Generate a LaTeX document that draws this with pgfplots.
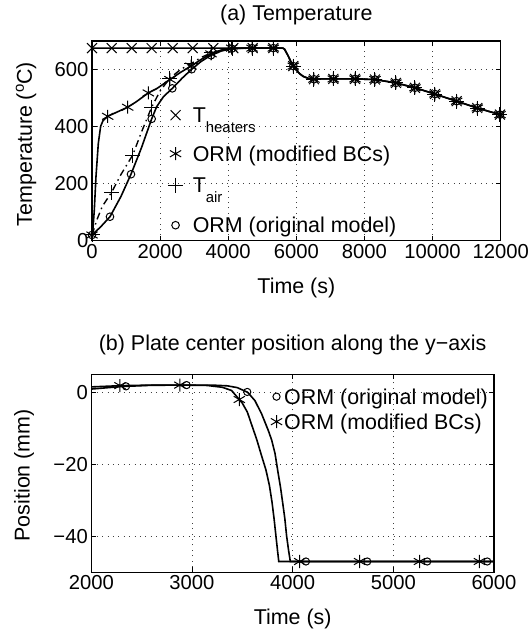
\documentclass[border=0pt]{standalone}
\usepackage{fontspec}
\setmainfont{Liberation Sans}
\usepackage{pgfplots}
\pgfplotsset{compat=1.18}
\newcommand{\sub}[1]{\raisebox{-10bp}{\fontsize{15}{16}\selectfont #1}}
\newcommand{\supo}{\raisebox{8bp}{\fontsize{15}{16}\selectfont o}}
\newcommand{\ff}{\fontsize{21.5}{25}\selectfont}
\newcommand{\ft}{\fontsize{20.3}{24}\selectfont}
\newcommand{\st}[1]{\rule[-#1bp]{0pt}{#1bp}\rule{0pt}{16bp}}
\pgfplotsset{
  mystyle/.style={
    scale only axis,
    anchor=south west,
    axis line style={line width=1.3bp},
    tick align=inside,
    major tick length=5bp,
    tick style={line width=0.8bp, black},
    grid=major,
    major grid style={black!75, line width=0.9bp, dash pattern=on 0.9bp off 4.5bp},
    scaled ticks=false,
    tick label style={font=\ft},
    xticklabel style={inner sep=3bp},
    label style={font=\ff},
    title style={font=\ff, anchor=center},
    legend style={font=\ff, draw=none, fill=none, inner sep=0pt, column sep=0pt, row sep=0pt,
                  nodes={inner sep=0pt, text depth=, text height=}, cells={anchor=base west}},
    clip=true,
  },
  curve/.style={black, line width=1.6bp, mark=none},
  mk/.style={only marks, black, mark options={line width=1bp, solid}},
}
\begin{document}
\begin{tikzpicture}
\path[use as bounding box] (0bp,0bp) rectangle (529bp,635bp);
% ---------------- (a) Temperature ----------------
\begin{axis}[mystyle,
  at={(92bp,394.3bp)}, width=408.7bp, height=199.7bp,
  xmin=0, xmax=12000, ymin=0, ymax=700,
  xtick={0,2000,4000,6000,8000,10000,12000},
  xticklabels={0,2000,4000,6000,8000,10000,12000},
  ytick={0,200,400,600}, yticklabels={0,200,400,600},
  title={(a) Temperature},
  title style={at={(axis description cs:0.5,1.10)}},
  xlabel={Time (s)},
  xlabel style={at={(axis description cs:0.5,-0.237)}, anchor=center},
  ylabel={Temperature (\supo C)},
  ylabel style={at={(axis description cs:-0.1615,0.484)}, anchor=center},
  legend style={at={(axis description cs:0.179,0.672)}, anchor=north west},
  legend image code/.code={\path (0bp,7.5bp) (27bp,7.5bp); \draw[mark repeat=2,mark phase=2,#1] plot coordinates {(0bp,7.5bp) (10bp,7.5bp) (27bp,7.5bp)};},
]
% heaters line
\addplot[curve, forget plot] coordinates {
(0,675) (5600,675) (5650,672) (5750,650) (5850,625) (5910,612) (6000,598) (6100,585) (6200,576) (6350,569) (6518,567) (7100,567) (7722,567) (8309,565) (8925,553) (9483,536) (10070,514) (10707,489) (11313,465) (11979,442) (12000,441)};
% modified BCs line
\addplot[curve, forget plot] coordinates {
(0,20) (30,45) (68,108) (117,225) (186,342) (254,401) (320,420) (380,427) (461,436) (700,449) (1047,468) (1300,487) (1654,518) (1900,533) (2290,565) (2600,590) (2907,612) (3200,635) (3494,655) (3800,668) (4100,675) (5600,675) (5650,672) (5750,650) (5850,625) (5910,612) (6000,598) (6100,585) (6200,576) (6350,569) (6518,567) (7100,567) (7722,567) (8309,565) (8925,553) (9483,536) (10070,514) (10707,489) (11313,465) (11979,442) (12000,441)};
% T air line (dash-dot)
\addplot[curve, line width=1.4bp, dash pattern=on 7bp off 4bp on 1.5bp off 4bp, forget plot] coordinates {
(0,20) (150,75) (300,120) (578,170) (850,232) (1195,300) (1450,380) (1752,468) (2000,525) (2290,570) (2600,600) (2927,622) (3200,642) (3494,658) (3800,668) (4130,673) (4700,675) (5600,675)};
% original model line
\addplot[curve, forget plot] coordinates {
(0,20) (250,48) (528,84) (850,155) (1145,233) (1450,325) (1752,427) (1900,470) (2100,505) (2358,534) (2650,570) (2927,601) (3200,628) (3494,650) (3800,665) (4100,673) (4500,675) (5600,675)};
% markers
\addplot[mk, mark=x, mark size=7bp] coordinates {
(0,675) (578,675) (1165,675) (1752,675) (2369,675) (2956,675) (3562,675) (4149,675) (4718,675) (5323,675) (5910,612) (6518,566) (7085,567) (7722,567) (8309,565) (8925,553) (9483,536) (10070,514) (10707,489) (11313,465) (11979,442)};
\addlegendentry{T\sub{heaters}\st{22.5}}
\addplot[mk, mark=asterisk, mark size=6.5bp] coordinates {
(0,20) (461,436) (1047,468) (1654,518) (2290,565) (2907,612) (3494,655) (4100,675) (4700,675) (5323,675) (5910,612) (6518,566) (7085,567) (7722,567) (8309,565) (8925,553) (9483,536) (10070,514) (10707,489) (11313,465) (11979,442)};
\addlegendentry{ORM (modified BCs)\st{15.5}}
\addplot[mk, mark=+, mark size=7.5bp] coordinates {
(0,20) (578,170) (1195,300) (1752,468) (2290,570) (2927,622) (3494,658) (4130,673) (4720,675) (5323,675) (5910,612) (6518,566) (7085,567) (7722,567) (8309,565) (8925,553) (9483,536) (10070,514) (10707,489) (11313,465) (11979,442)};
\addlegendentry{T\sub{air}\st{24}}
\addplot[mk, mark=o, mark size=3.8bp] coordinates {
(0,20) (528,84) (1145,233) (1752,427) (2358,534) (2927,601) (3494,650) (4100,673) (4700,675) (5323,675) (5910,612) (6518,566) (7085,567) (7722,567) (8309,565) (8925,553) (9483,536) (10070,514) (10707,489) (11313,465) (11979,442)};
\addlegendentry{ORM (original model)\st{5}}
\end{axis}
% ---------------- (b) Position ----------------
\begin{axis}[mystyle,
  at={(91.3bp,62.7bp)}, width=402.7bp, height=198bp,
  xmin=2000, xmax=6000, ymin=-50, ymax=5,
  xtick={2000,3000,4000,5000,6000},
  xticklabels={2000,3000,4000,5000,6000},
  ytick={-40,-20,0}, yticklabels={−40,−20,0},
  title={(b) Plate center position along the y−axis},
  title style={at={(axis description cs:0.5,1.118)}},
  xlabel={Time (s)},
  xlabel style={at={(axis description cs:0.5,-0.236)}, anchor=center},
  ylabel={Position (mm)},
  ylabel style={at={(axis description cs:-0.167,0.49)}, anchor=center},
  legend style={at={(axis description cs:0.985,0.931)}, anchor=north east},
  legend image code/.code={\path (0bp,7.5bp) (11bp,7.5bp); \draw[mark repeat=2,mark phase=2,#1] plot coordinates {(0bp,7.5bp) (3.5bp,7.5bp) (11bp,7.5bp)};},
]
\addplot[curve, forget plot] coordinates {
(2000,0.9) (2300,1.6) (2600,1.95) (2900,2.0) (3200,2.0) (3350,1.8) (3450,1.3) (3553,0) (3625,-2.3) (3692,-6) (3758,-10.6) (3791,-13.2) (3825,-17) (3851,-21.6) (3880,-26.5) (3901,-30.7) (3922,-35) (3940,-39.9) (3960,-44) (3977,-47) (6000,-47)};
\addplot[curve, forget plot] coordinates {
(2000,1.5) (2300,1.85) (2600,2.0) (2900,2.0) (3150,1.9) (3300,1.4) (3394,0.5) (3454,-1.5) (3500,-3.0) (3550,-5.5) (3600,-9.6) (3642,-13.0) (3690,-17.5) (3735,-21.6) (3770,-26) (3795,-30.5) (3815,-35) (3834,-39.9) (3850,-44) (3862,-47) (6000,-47)};
\addplot[mk, mark=o, mark size=3.6bp] coordinates {
(2345,1.65) (2947,2.0) (3549,0.1) (4132,-47) (4741,-47) (5337,-47) (5933,-47)};
\addlegendentry{ORM (original model)\st{9}}
\addplot[mk, mark=asterisk, mark size=6.5bp] coordinates {
(2285,1.85) (2880,2.0) (3470,-2.0) (4070,-47) (4665,-47) (5260,-47) (5855,-47)};
\addlegendentry{ORM (modified BCs)\st{6}}
\end{axis}
\end{tikzpicture}
\end{document}
